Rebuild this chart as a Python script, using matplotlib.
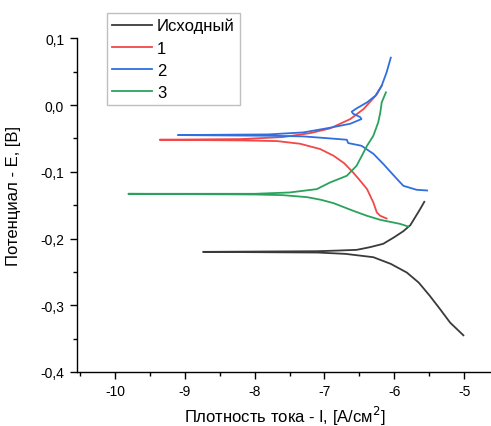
import matplotlib
matplotlib.use("Agg")
import matplotlib.pyplot as plt
from matplotlib.ticker import MultipleLocator, FuncFormatter

plt.rcParams['font.family'] = ['Liberation Sans', 'DejaVu Sans']

# log current density (x) and potential (y), cathodic branch then anodic branch
base_x = [-5.01, -5.10, -5.20, -5.35, -5.49, -5.65, -5.82, -6.05, -6.30, -6.70, -7.10, -8.74,
          -7.10, -6.80, -6.54, -6.35, -6.16, -6.00, -5.87, -5.77, -5.70, -5.63, -5.57]
base_y = [-0.345, -0.336, -0.326, -0.305, -0.286, -0.266, -0.251, -0.238, -0.228, -0.223, -0.221, -0.220,
          -0.219, -0.218, -0.217, -0.213, -0.208, -0.198, -0.189, -0.180, -0.168, -0.156, -0.145]

s1_x = [-6.11, -6.20, -6.25, -6.30, -6.39, -6.50, -6.59, -6.72, -6.87, -7.06, -7.35, -7.68, -8.20, -9.36,
        -8.20, -7.60, -7.20, -6.92, -6.63, -6.44, -6.25, -6.18]
s1_y = [-0.170, -0.166, -0.161, -0.146, -0.126, -0.112, -0.101, -0.087, -0.076, -0.066, -0.058, -0.054, -0.053, -0.052,
        -0.051, -0.048, -0.042, -0.035, -0.021, -0.006, 0.016, 0.029]

s2_x = [-5.53, -5.68, -5.87, -5.96, -6.16, -6.30, -6.47, -6.66, -6.68, -6.92, -7.30, -7.80, -9.10,
        -7.80, -7.30, -6.92, -6.63, -6.47, -6.49, -6.59, -6.61, -6.54, -6.39, -6.27, -6.18, -6.11, -6.05]
s2_y = [-0.128, -0.127, -0.121, -0.111, -0.088, -0.073, -0.061, -0.057, -0.052, -0.050, -0.047, -0.046, -0.045,
        -0.044, -0.041, -0.034, -0.028, -0.021, -0.018, -0.013, -0.010, -0.005, 0.004, 0.014, 0.029, 0.049, 0.071]

s3_x = [-5.80, -5.92, -6.20, -6.39, -6.60, -6.87, -7.05, -7.25, -7.60, -8.00, -9.81,
        -8.00, -7.50, -7.11, -6.92, -6.68, -6.54, -6.39, -6.30, -6.23, -6.20, -6.18, -6.12]
s3_y = [-0.182, -0.178, -0.172, -0.166, -0.158, -0.147, -0.142, -0.138, -0.135, -0.134, -0.133,
        -0.133, -0.131, -0.126, -0.116, -0.106, -0.091, -0.061, -0.046, -0.026, -0.011, 0.004, 0.019]

labels = ['Исходный', '1', '2', '3']
colors = ['#3a3a3a', '#f24848', '#2f6fe0', '#2aa25c']

x_ticks = [-10, -9, -8, -7, -6, -5]
y_ticks = [-0.4, -0.3, -0.2, -0.1, 0.0, 0.1]

W, H = 491, 427
fig = plt.figure(figsize=(W / 100, H / 100), dpi=100)
left, right, top, bottom = 76.7, 492, 39.3, 373
ax = fig.add_axes([left / W, (H - bottom) / H, (right - left) / W, (bottom - top) / H])

series = [(base_x, base_y), (s1_x, s1_y), (s2_x, s2_y), (s3_x, s3_y)]
for (xs, ys), lab, col in zip(series, labels, colors):
    ax.plot(xs, ys, color=col, lw=1.3, label=lab, solid_joinstyle='round')

ax.set_xlim(-10.55, -4.6)
ax.set_ylim(-0.4, 0.1)
ax.set_xticks(x_ticks)
ax.set_yticks(y_ticks)
ax.xaxis.set_minor_locator(MultipleLocator(0.5))
ax.yaxis.set_minor_locator(MultipleLocator(0.05))
ax.xaxis.set_major_formatter(FuncFormatter(lambda v, p: f"{v:.0f}".replace('\u2212', '-')))
ax.yaxis.set_major_formatter(FuncFormatter(
    lambda v, p: ("0,0" if abs(v) < 1e-9 else f"{v:.1f}".replace('.', ','))))

for s in ['top', 'right']:
    ax.spines[s].set_visible(False)
for s in ['left', 'bottom']:
    ax.spines[s].set_linewidth(1.0)
ax.tick_params(which='major', direction='out', length=5, width=1.0, labelsize=10, pad=4)
ax.tick_params(which='minor', direction='out', length=3, width=1.0)

ax.set_xlabel('Плотность тока - I, [A/см$^2$]', fontsize=12)
ax.set_ylabel('Потенциал - E, [B]', fontsize=12)
ax.xaxis.set_label_coords(0.5, (bottom - 405) / (bottom - top))
ax.yaxis.set_label_coords((21 - left) / (right - left), (bottom - 196) / (bottom - top))

leg = ax.legend(loc='upper left', bbox_to_anchor=((107 - left) / (right - left), (bottom - 14) / (bottom - top)),
                borderaxespad=0, fontsize=12, frameon=True, fancybox=False, handlelength=2.4,
                labelspacing=0.42, borderpad=0.3, handletextpad=0.3)
leg.get_frame().set_edgecolor('#b0b0b0')
leg.get_frame().set_linewidth(1.0)

fig.savefig('out.png', dpi=100)
